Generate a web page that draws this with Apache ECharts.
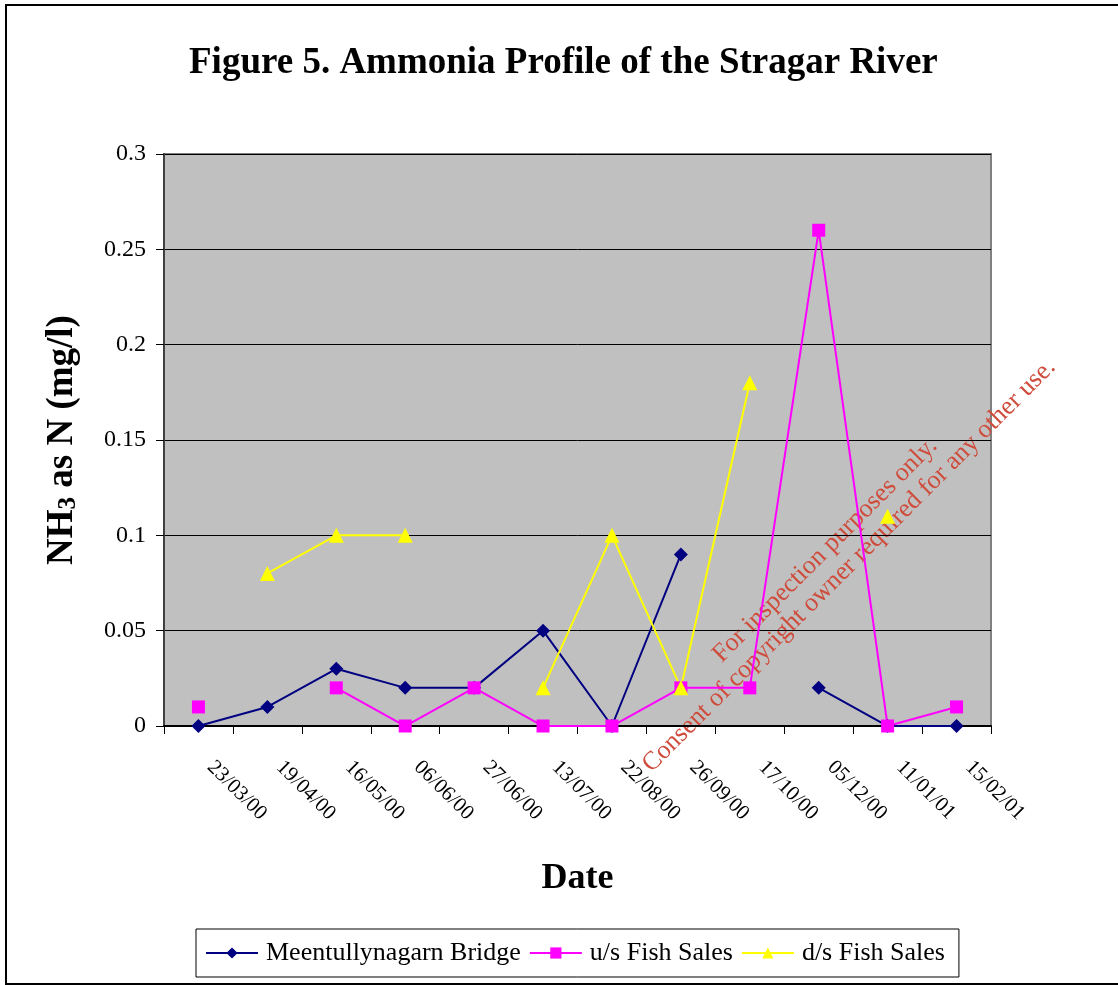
<!doctype html>
<html lang="en">
<head>
	<meta charset="UTF-8">
	<title>Ammonia Profile of the Stragar River</title>
	<style>
		html, body { margin: 0; padding: 0; background: #fff; }
		#main { width: 1118px; height: 985px; }
	</style>
</head>
<body>
<div id="main"></div>
<script src="https://cdn.jsdelivr.net/npm/echarts@6/dist/echarts.min.js"></script>
<script type="text/javascript">
	// sampling dates and readings (mg/l), null = not sampled
	var dates = ['23/03/00', '19/04/00', '16/05/00', '06/06/00', '27/06/00', '13/07/00',
		'22/08/00', '26/09/00', '17/10/00', '05/12/00', '11/01/01', '15/02/01'];
	var bridge = [0, 0.01, 0.03, 0.02, 0.02, 0.05, 0, 0.09, null, 0.02, 0, 0];
	var upstream = [0.01, null, 0.02, 0, 0.02, 0, 0, 0.02, 0.02, 0.26, 0, 0.01];
	var downstream = [null, 0.08, 0.1, 0.1, null, 0.02, 0.1, 0.02, 0.18, null, 0.11, null];
	var seriesNames = ['Meentullynagarn Bridge', 'u/s Fish Sales', 'd/s Fish Sales'];

	var serif = "'Liberation Serif', 'Times New Roman', serif";
	var myChart = echarts.init(document.getElementById('main'));

	function lineSeries(name, data, color, symbol, size) {
		return {
			name: name,
			type: 'line',
			data: data,
			symbol: symbol,
			symbolSize: size,
			showAllSymbol: true,
			connectNulls: false,
			lineStyle: { color: color, width: 2 },
			itemStyle: { color: color },
			emphasis: { disabled: true }
		};
	}

	var option = {
		backgroundColor: '#fff',
		animation: false,
		title: {
			text: 'Figure 5. Ammonia Profile of the Stragar River',
			left: 184,
			top: 40,
			textStyle: { fontFamily: serif, fontSize: 37, fontWeight: 'bold', color: '#000' }
		},
		legend: {
			data: seriesNames,
			left: 196,
			bottom: 8,
			padding: [11, 14, 11, 9],
			itemGap: 8,
			itemWidth: 52,
			itemHeight: 14,
			borderColor: '#000',
			borderWidth: 1,
			textStyle: { fontFamily: serif, fontSize: 26, color: '#000', padding: [0, 0, 0, 3] }
		},
		grid: {
			left: 164,
			right: 127,
			top: 154,
			bottom: 259,
			show: true,
			backgroundColor: '#c0c0c0',
			borderColor: '#808080',
			borderWidth: 2
		},
		xAxis: {
			type: 'category',
			data: dates,
			boundaryGap: true,
			name: 'Date',
			nameLocation: 'middle',
			nameGap: 135,
			nameTextStyle: { fontFamily: serif, fontSize: 36, fontWeight: 'bold', color: '#000' },
			axisLine: { lineStyle: { color: '#000', width: 2 } },
			axisTick: { show: true, length: 8, lineStyle: { color: '#000' } },
			axisLabel: {
				rotate: -45,
				margin: 26,
				interval: 0,
				padding: [0, 0, 0, 17],
				fontFamily: serif,
				fontSize: 21,
				color: '#000'
			}
		},
		yAxis: {
			type: 'value',
			min: 0,
			max: 0.3,
			interval: 0.05,
			name: '{b|NH}{s|3}{b| as N (mg/l)}',
			nameLocation: 'middle',
			nameGap: 83,
			nameTextStyle: {
				rich: {
					b: { fontFamily: serif, fontSize: 37, fontWeight: 'bold', color: '#000' },
					s: { fontFamily: serif, fontSize: 25, fontWeight: 'bold', color: '#000', verticalAlign: 'bottom', padding: [11, 0, 0, 0] }
				}
			},
			axisLine: { show: true, lineStyle: { color: '#404040', width: 2 } },
			axisTick: { show: true, length: 8, lineStyle: { color: '#000' } },
			axisLabel: { margin: 18, fontFamily: serif, fontSize: 24, color: '#000' },
			splitLine: { lineStyle: { color: '#000', width: 1 } }
		},
		series: [
			lineSeries(seriesNames[0], bridge, '#000080', 'diamond', 14),
			lineSeries(seriesNames[1], upstream, '#ff00ff', 'rect', 13),
			lineSeries(seriesNames[2], downstream, '#ffff00', 'triangle', 15)
		],
		graphic: [
			{
				type: 'rect',
				shape: { x: 6, y: 5, width: 1130, height: 979 },
				style: { fill: null, stroke: '#000', lineWidth: 2 },
				silent: true,
				z: 100
			},
			{
				type: 'group',
				x: 837,
				y: 558,
				rotation: Math.PI / 4,
				z: 100,
				silent: true,
				children: [
					{
						type: 'text',
						x: -3,
						y: -14,
						style: {
							text: 'For inspection purposes only.',
							fill: '#cf4c3c',
							font: '26px ' + serif,
							textAlign: 'center',
							textVerticalAlign: 'middle'
						}
					},
					{
						type: 'text',
						x: 3,
						y: 14,
						style: {
							text: 'Consent of copyright owner required for any other use.',
							fill: '#cf4c3c',
							font: '26px ' + serif,
							textAlign: 'center',
							textVerticalAlign: 'middle'
						}
					}
				]
			}
		]
	};

	myChart.setOption(option);
</script>
</body>
</html>
